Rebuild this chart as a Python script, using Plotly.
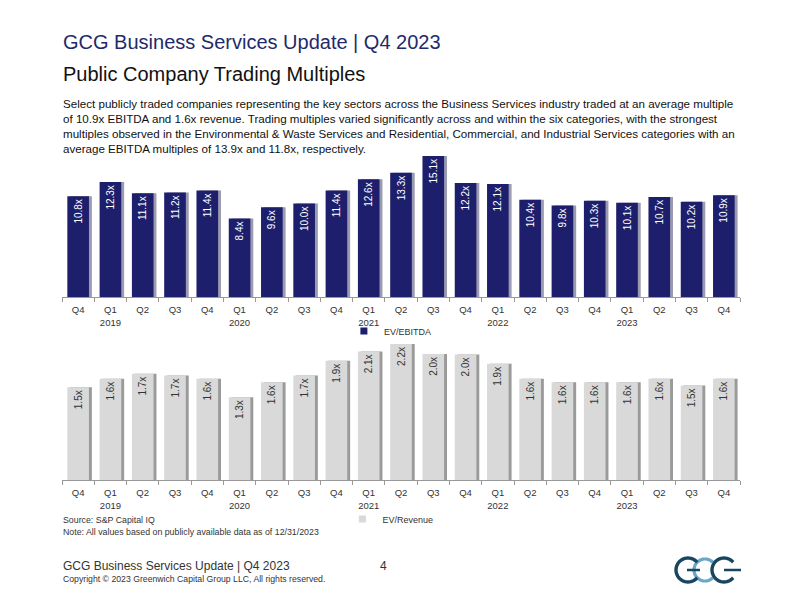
import numpy as np
import plotly.graph_objects as go

# ---------------- data ----------------
periods = ["Q4 2018", "Q1 2019", "Q2 2019", "Q3 2019", "Q4 2019",
           "Q1 2020", "Q2 2020", "Q3 2020", "Q4 2020",
           "Q1 2021", "Q2 2021", "Q3 2021", "Q4 2021",
           "Q1 2022", "Q2 2022", "Q3 2022", "Q4 2022",
           "Q1 2023", "Q2 2023", "Q3 2023", "Q4 2023"]
tick_text = ["Q4", "Q1<br>2019", "Q2", "Q3", "Q4",
             "Q1<br>2020", "Q2", "Q3", "Q4",
             "Q1<br>2021", "Q2", "Q3", "Q4",
             "Q1<br>2022", "Q2", "Q3", "Q4",
             "Q1<br>2023", "Q2", "Q3", "Q4"]
ev_ebitda = [10.8, 12.3, 11.1, 11.2, 11.4, 8.4, 9.6, 10.0, 11.4, 12.6, 13.3,
             15.1, 12.2, 12.1, 10.4, 9.8, 10.3, 10.1, 10.7, 10.2, 10.9]
ev_revenue = [1.50, 1.64, 1.72, 1.69, 1.64, 1.34, 1.58, 1.69, 1.93, 2.08, 2.20,
              2.04, 2.03, 1.88, 1.64, 1.58, 1.58, 1.58, 1.64, 1.53, 1.64]

W, H = 800, 600
def px(x):
    return x / W
def py(y):
    return 1 - y / H

NAVY = "#1d1f6c"
GRAY = "#d9d9d9"
SANS = "Liberation Sans, Arial, Helvetica"

fig = go.Figure()

BW = 0.67
OFF = -BW / 2
SH = 0.09

# top chart: shadow + bars
fig.add_trace(go.Bar(x=periods, y=ev_ebitda, width=BW, offset=OFF + SH,
                     marker=dict(color="#9a9ab0", line_width=0), showlegend=False,
                     hoverinfo="skip", xaxis="x", yaxis="y"))
fig.add_trace(go.Bar(x=periods, y=ev_ebitda, width=BW, offset=OFF,
                     marker=dict(color=NAVY, line_width=0), name="EV/EBITDA",
                     text=[f"{v:.1f}x" for v in ev_ebitda], textposition="inside",
                     insidetextanchor="end", textangle=-90,
                     textfont=dict(color="white", size=10, family=SANS),
                     legendgroup="ebitda", showlegend=False, xaxis="x", yaxis="y"))
# compact legend key for the EV/EBITDA series
fig.add_trace(go.Scatter(x=[None], y=[None], mode="markers", name="EV/EBITDA",
                         marker=dict(symbol="square", size=7, color=NAVY),
                         legendgroup="ebitda", legend="legend", xaxis="x", yaxis="y"))

# bottom chart: shadow + bars
fig.add_trace(go.Bar(x=periods, y=ev_revenue, width=BW, offset=OFF + SH,
                     marker=dict(color="#9a9a9a", line_width=0), showlegend=False,
                     hoverinfo="skip", xaxis="x2", yaxis="y2"))
fig.add_trace(go.Bar(x=periods, y=ev_revenue, width=BW, offset=OFF,
                     marker=dict(color=GRAY, line_width=0), name="EV/Revenue",
                     text=[f"{v:.1f}x" for v in ev_revenue], textposition="inside",
                     insidetextanchor="end", textangle=-90,
                     textfont=dict(color="#333333", size=10, family=SANS),
                     legendgroup="rev", showlegend=False, xaxis="x2", yaxis="y2"))
fig.add_trace(go.Scatter(x=[None], y=[None], mode="markers", name="EV/Revenue",
                         marker=dict(symbol="square", size=7, color=GRAY),
                         legendgroup="rev", legend="legend2", xaxis="x2", yaxis="y2"))

xcommon = dict(type="category", tickmode="array", tickvals=periods, ticktext=tick_text,
               tickson="boundaries", ticks="outside", ticklen=4, tickcolor="#999999",
               showline=True, linecolor="#999999", linewidth=1, showgrid=False,
               tickangle=0, ticklabelstandoff=4,
               tickfont=dict(family=SANS, size=9.5, color="#333333"),
               range=[-0.5, len(periods) - 0.5], fixedrange=True)

fig.update_layout(
    width=W, height=H,
    margin=dict(l=0, r=0, t=0, b=0),
    paper_bgcolor="white", plot_bgcolor="white",
    barmode="overlay",
    xaxis=dict(domain=[px(62), px(740)], anchor="y", **xcommon),
    yaxis=dict(domain=[py(297), py(297 - 16 * 9.34)], range=[0, 16], visible=False,
               showgrid=False),
    xaxis2=dict(domain=[px(62), px(740)], anchor="y2", **xcommon),
    yaxis2=dict(domain=[py(480), py(480 - 2.4 * 61.8)], range=[0, 2.4], visible=False,
                showgrid=False),
    legend=dict(x=0.488, xanchor="center", y=py(331), yanchor="middle",
                orientation="h", itemwidth=30,
                font=dict(family=SANS, size=9, color="#333333"),
                bgcolor="rgba(0,0,0,0)"),
    legend2=dict(x=0.488, xanchor="center", y=py(519), yanchor="middle",
                 orientation="h", itemwidth=30,
                 font=dict(family=SANS, size=9, color="#333333"),
                 bgcolor="rgba(0,0,0,0)"),
    showlegend=True,
)

annotations = [
    dict(text="GCG Business Services Update | Q4 2023", x=px(61), y=py(42),
         font=dict(family=SANS, size=20, color="#1f2a6b")),
    dict(text="Public Company Trading Multiples", x=px(61), y=py(74),
         font=dict(family=SANS, size=20, color="#111111")),
    dict(text=("Select publicly traded companies representing the key sectors across the Business Services industry traded at an average multiple<br>"
               "of 10.9x EBITDA and 1.6x revenue. Trading multiples varied significantly across and within the six categories, with the strongest<br>"
               "multiples observed in the Environmental &amp; Waste Services and Residential, Commercial, and Industrial Services categories with an<br>"
               "average EBITDA multiples of 13.9x and 11.8x, respectively."),
         x=px(61), y=py(126), align="left",
         font=dict(family=SANS, size=11.6, color="#111111")),
    dict(text="Source: S&amp;P Capital IQ", x=px(61), y=py(520),
         font=dict(family=SANS, size=8.8, color="#333333")),
    dict(text="Note: All values based on publicly available data as of 12/31/2023", x=px(61), y=py(532),
         font=dict(family=SANS, size=8.8, color="#333333")),
    dict(text="GCG Business Services Update | Q4 2023", x=px(61), y=py(566),
         font=dict(family=SANS, size=12, color="#333333")),
    dict(text="Copyright © 2023 Greenwich Capital Group LLC, All rights reserved.", x=px(61), y=py(579),
         font=dict(family=SANS, size=8.7, color="#333333")),
]
for a in annotations:
    a.update(xref="paper", yref="paper", xanchor="left", yanchor="middle", showarrow=False)
annotations.append(dict(text="4", x=px(383), y=py(566), xref="paper", yref="paper",
                        xanchor="center", yanchor="middle", showarrow=False,
                        font=dict(family=SANS, size=12, color="#333333")))
fig.update_layout(annotations=annotations)

# logo (decorative shapes)
def arc_path(cx, cy, r, a0, a1, n=40):
    t = np.radians(np.linspace(a0, a1, n))
    pts = [(px(cx + r * np.cos(a)), py(cy - r * np.sin(a))) for a in t]
    return "M " + " L ".join(f"{x:.5f},{y:.5f}" for x, y in pts)

DARK = "#17465e"
LIGHT = "#6aa6c8"
shapes = [
    dict(type="path", path=arc_path(705, 570, 11, 45, 315), line=dict(color=LIGHT, width=3.2)),
    dict(type="path", path=arc_path(688, 570, 12, 40, 320), line=dict(color=DARK, width=3.4)),
    dict(type="path", path=arc_path(724, 570, 12, 40, 320), line=dict(color=DARK, width=3.4)),
    dict(type="line", x0=px(687), x1=px(700), y0=py(570), y1=py(570), line=dict(color=DARK, width=2.5)),
    dict(type="line", x0=px(724), x1=px(741), y0=py(570), y1=py(570), line=dict(color=DARK, width=2.5)),
]
for s in shapes:
    s.update(xref="paper", yref="paper")
fig.update_layout(shapes=shapes)

fig.write_html("out.html")
